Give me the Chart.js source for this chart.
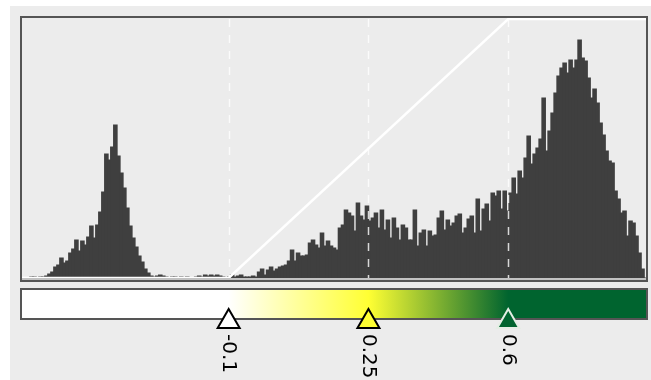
<!DOCTYPE html>
<html>
<head>
<meta charset="utf-8">
<script src="https://cdn.jsdelivr.net/npm/chart.js@4"></script>
<style>
  html, body { margin: 0; padding: 0; background: #ffffff; }
  canvas { display: block; }
</style>
</head>
<body>
<canvas id="hist" width="651" height="380"></canvas>
<script>
// histogram bins (value axis) and counts per bin
const binStart = -0.62;
const binWidth = 0.0075;
const counts = [
  0, 0, 0, 1, 1, 0, 1, 1, 2, 4,
  6, 11, 13, 20, 15, 17, 25, 29, 38, 27,
  37, 33, 41, 52, 40, 53, 66, 86, 124, 118,
  131, 153, 122, 105, 90, 70, 52, 40, 31, 22,
  16, 9, 5, 2, 1, 2, 3, 2, 1, 0,
  1, 1, 0, 1, 0, 1, 0, 0, 1, 2,
  1, 3, 2, 3, 2, 3, 2, 1, 0, 1,
  3, 1, 2, 3, 1, 1, 1, 2, 1, 6,
  9, 3, 8, 11, 7, 9, 11, 12, 13, 17,
  28, 17, 25, 22, 22, 23, 35, 38, 33, 30,
  45, 32, 37, 32, 30, 28, 50, 53, 68, 65,
  62, 47, 75, 62, 58, 72, 57, 60, 65, 50,
  68, 48, 58, 40, 60, 50, 38, 53, 50, 38,
  38, 68, 32, 45, 48, 32, 47, 42, 43, 60,
  67, 48, 58, 52, 55, 62, 64, 45, 50, 59,
  62, 45, 79, 47, 69, 74, 57, 85, 82, 87,
  69, 87, 67, 85, 100, 84, 107, 100, 120, 142,
  114, 124, 130, 139, 180, 127, 147, 165, 185, 202,
  210, 215, 205, 218, 210, 218, 238, 220, 217, 200,
  180, 189, 175, 155, 143, 127, 117, 115, 87, 79,
  65, 67, 42, 57, 55, 42, 25, 9, 0
];

// axis range
const xMin = -0.62;
const xMax = 0.945;
const yMax = 259;

// transfer function line
const tfX = [-0.62, -0.1, 0.6, 0.945];
const tfY = [0, 0, 259, 259];

// colour map markers
const markerValues = [-0.1, 0.25, 0.6];
const markerLabels = ['-0.1', '0.25', '0.6'];
const markerColors = ['#ffffff', '#ffff33', '#00642f'];
const markerStrokes = ['#000000', '#000000', '#e4eee4'];

const histData = counts.map((c, i) => ({ x: binStart + (i + 0.5) * binWidth, y: c }));
const tfData = tfX.map((v, i) => ({ x: v, y: tfY[i] }));

const panelPlugin = {
  id: 'panel',
  beforeDraw(chart) {
    const ctx = chart.ctx;
    ctx.save();
    ctx.fillStyle = '#ffffff';
    ctx.fillRect(0, 0, chart.width, chart.height);
    ctx.fillStyle = '#ececec';
    ctx.fillRect(10, 6, chart.width - 10, chart.height - 6);
    ctx.restore();
  },
  afterDatasetsDraw(chart) {
    // dashed marker guides over the histogram
    const ctx = chart.ctx;
    const xs = chart.scales.x;
    const area = chart.chartArea;
    ctx.save();
    ctx.strokeStyle = 'rgba(255,255,255,0.8)';
    ctx.lineWidth = 1.5;
    ctx.setLineDash([8, 8]);
    markerValues.forEach(v => {
      const px = Math.round(xs.getPixelForValue(v)) + 0.5;
      ctx.beginPath();
      ctx.moveTo(px, area.top);
      ctx.lineTo(px, area.bottom);
      ctx.stroke();
    });
    ctx.restore();
  },
  afterDraw(chart) {
    const ctx = chart.ctx;
    const xs = chart.scales.x;
    const area = chart.chartArea;
    ctx.save();

    // plot frame
    ctx.fillStyle = '#c2c2c2';
    ctx.fillRect(22, area.bottom, 624, 2);
    ctx.strokeStyle = '#555555';
    ctx.lineWidth = 2;
    ctx.strokeRect(21, 17, 626, 264);

    // colour bar
    const left = xs.getPixelForValue(xMin);
    const right = xs.getPixelForValue(xMax);
    const grad = ctx.createLinearGradient(left, 0, right, 0);
    grad.addColorStop(0, markerColors[0]);
    markerValues.forEach((v, i) => {
      grad.addColorStop((v - xMin) / (xMax - xMin), markerColors[i]);
    });
    grad.addColorStop(1, markerColors[markerColors.length - 1]);
    ctx.fillStyle = grad;
    ctx.fillRect(22, 290, 625, 28);
    ctx.strokeStyle = '#555555';
    ctx.strokeRect(21, 289, 626, 30);

    // markers and labels
    markerValues.forEach((v, i) => {
      const px = xs.getPixelForValue(v);
      ctx.beginPath();
      ctx.moveTo(px, 309);
      ctx.lineTo(px + 11, 328);
      ctx.lineTo(px - 11, 328);
      ctx.closePath();
      ctx.fillStyle = markerColors[i];
      ctx.fill();
      ctx.strokeStyle = markerStrokes[i];
      ctx.lineWidth = 2;
      ctx.lineJoin = 'miter';
      ctx.stroke();

      ctx.save();
      ctx.translate(px, 334);
      ctx.rotate(Math.PI / 2);
      ctx.fillStyle = '#000000';
      ctx.font = '20px "DejaVu Sans"';
      ctx.textAlign = 'left';
      ctx.textBaseline = 'middle';
      ctx.fillText(markerLabels[i], 0, 0);
      ctx.restore();
    });
    ctx.restore();
  }
};

new Chart(document.getElementById('hist'), {
  data: {
    datasets: [
      {
        type: 'line',
        data: tfData,
        borderColor: '#ffffff',
        borderWidth: 2.5,
        pointRadius: 0,
        tension: 0,
        clip: false,
        order: 0
      },
      {
        type: 'bar',
        data: histData,
        backgroundColor: '#3f3f3f',
        borderWidth: 0,
        barThickness: 3.6,
        inflateAmount: 0.5,
        order: 1
      }
    ]
  },
  options: {
    responsive: false,
    animation: false,
    layout: { padding: { left: 21, right: 5, top: 19, bottom: 102 } },
    scales: {
      x: { type: 'linear', min: xMin, max: xMax, offset: false, display: false },
      y: { min: 0, max: yMax, display: false }
    },
    plugins: {
      legend: { display: false },
      tooltip: { enabled: false }
    }
  },
  plugins: [panelPlugin]
});
</script>
</body>
</html>
